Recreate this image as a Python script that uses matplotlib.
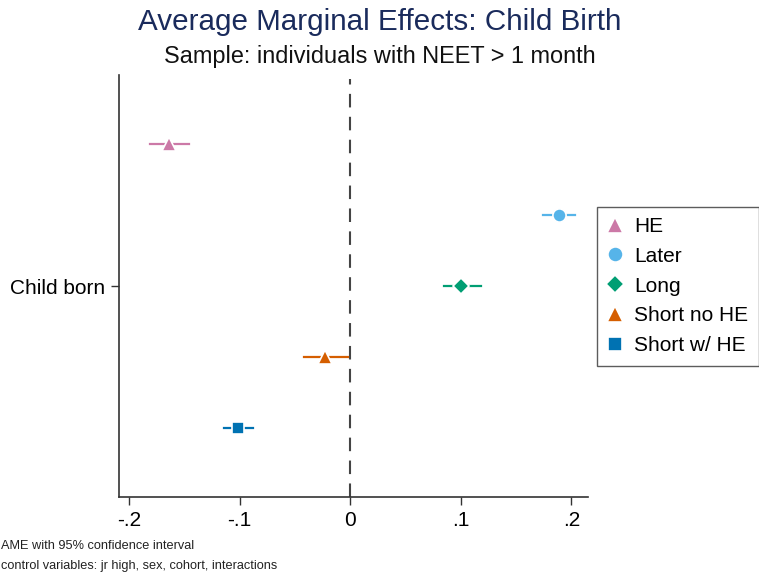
import matplotlib.pyplot as plt
import numpy as np

plt.rcParams["font.family"] = ["Liberation Sans", "DejaVu Sans"]

# ─── Data ──────────────────────────────────────────────────────────────────
groups = ["HE", "Later", "Long", "Short no HE", "Short w/ HE"]
ame = [-0.164, 0.189, 0.100, -0.023, -0.101]
ci_low = [-0.181, 0.174, 0.085, -0.042, -0.114]
ci_high = [-0.146, 0.203, 0.118, -0.002, -0.088]
category = "Child born"

colors = ["#cc79a7", "#56b4e9", "#009e73", "#d55e00", "#0072b2"]
markers = ["^", "o", "D", "^", "s"]
msizes = [10, 9.5, 8, 10, 8.5]
offsets = [-0.4, -0.2, 0.0, 0.2, 0.4]

# ─── Figure ────────────────────────────────────────────────────────────────
fig = plt.figure(figsize=(7.59, 5.78), dpi=100)
ax = fig.add_axes([0.1568, 0.140, 0.618, 0.730])

ax.axvline(0, ymax=0.99, color="#444444", lw=1.5, ls=(0, (6.5, 4.5)), zorder=1)

handles = []
for g, m, lo, hi, c, mk, ms, off in zip(groups, ame, ci_low, ci_high,
                                        colors, markers, msizes, offsets):
    ax.plot([lo, hi], [off, off], color=c, lw=1.6, zorder=2)
    (h,) = ax.plot(m, off, marker=mk, ms=ms, color=c, mec="white", mew=1.2,
                   ls="none", zorder=3, label=g)
    handles.append(h)

ax.set_xlim(-0.209, 0.215)
ax.set_ylim(0.595, -0.595)
ax.set_xticks([-0.2, -0.1, 0, 0.1, 0.2])
ax.set_xticklabels(["-.2", "-.1", "0", ".1", ".2"])
ax.set_yticks([0])
ax.set_yticklabels([category])
ax.tick_params(axis="both", labelsize=15, length=6, width=1, color="#333333",
               pad=4)
for s in ["top", "right"]:
    ax.spines[s].set_visible(False)
for s in ["left", "bottom"]:
    ax.spines[s].set_color("#333333")
    ax.spines[s].set_linewidth(1.2)

leg = ax.legend(handles=handles, loc="center left", bbox_to_anchor=(1.018, 0.5),
                borderaxespad=0, fontsize=15, frameon=True, fancybox=False,
                edgecolor="#333333", markerscale=1.15, handlelength=0.8,
                handletextpad=0.5, labelspacing=0.52, borderpad=0.5)
leg.get_frame().set_linewidth(1.0)

fig.text(0.5, 0.962, "Average Marginal Effects: Child Birth", ha="center",
         va="center", fontsize=21.3, color="#1a2b5c")
fig.text(0.5, 0.903, "Sample: individuals with NEET > 1 month", ha="center",
         va="center", fontsize=16.9, color="#111111")

fig.text(0.001, 0.055, "AME with 95% confidence interval", ha="left",
         va="center", fontsize=9.2, color="#222222")
fig.text(0.001, 0.020, "control variables: jr high, sex, cohort, interactions",
         ha="left", va="center", fontsize=9.2, color="#222222")

fig.savefig("out.png", dpi=100)
